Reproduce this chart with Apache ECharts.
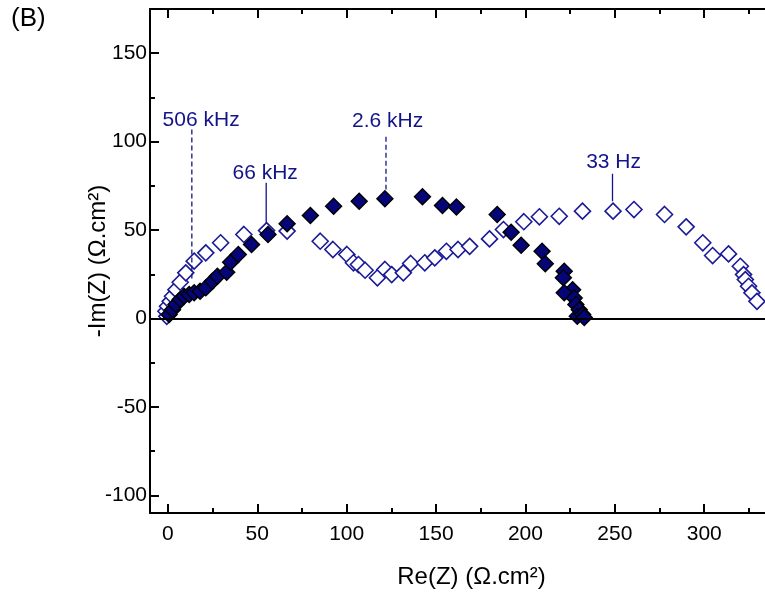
<!DOCTYPE html>
<html>
<head>
<meta charset="utf-8">
<script src="https://cdn.jsdelivr.net/npm/echarts@6/dist/echarts.min.js"></script>
<style>
html,body{margin:0;padding:0;background:#fff;}
#chart{width:765px;height:595px;}
</style>
</head>
<body>
<div id="chart"></div>
<script>
// ---- data (Re(Z), -Im(Z)) in ohm.cm2 ----
const filledSeries = [
  [0.7,2.2],[2.6,5],[4.5,7.9],[6.9,10.7],[9.1,12.5],[11.9,13.5],[14.7,14.5],[18,15.4],
  [21.2,17.3],[24.9,21],[27.7,23.9],[32.9,26.1],[35.1,31.8],[39.4,36.2],[46.8,41.8],
  [56,47.5],[66.7,53.5],[79.7,58.2],[92.7,63.5],[107,66.3],[121.4,67.7],[142.4,68.8],
  [153.6,63.9],[161.4,63.1],[184.2,58.8],[192,48.8],[197.6,41.4],[209.3,38],[211.1,30.9],
  [221.7,26.7],[221.2,23],[226.4,16.3],[221.7,14.5],[227.3,11.6],[228.2,7.9],[230.1,5],
  [229,1.2],[232,2.2],[232.9,0.5]
];
const openSeries = [
  [-0.6,1.2],[-1.1,4.1],[-0.2,6.9],[1.3,9.7],[2.6,12.6],[4.5,16.3],[6.9,20.5],[10,25.8],
  [14.7,32.4],[21.2,37.1],[29.5,42.8],[42.5,47.5],[55.2,49.7],[66.7,49.4],[85.2,43.7],
  [92.3,39],[100.1,36.2],[103.8,31.5],[106.6,30.5],[110.3,27.3],[117.2,23],[121.4,27.7],
  [125.2,24.8],[131.7,25.8],[135.8,31.1],[143.7,31.5],[149.3,34.3],[155.8,38],[162.3,39],
  [168.8,40.8],[179.9,45],[187.7,50.3],[199.1,54.7],[207.8,57.5],[218.9,57.8],[231.9,60.7],
  [249,60.7],[260.7,61.6],[277.8,58.8],[289.9,51.8],[299.2,42.8],[304.7,35.6],[313.6,36.5],
  [320.2,29.5],[322,24.8],[323,22],[324.8,18.2],[326.7,14.5],[329.5,9.7]
];
// frequency annotations: label, x, label position, line top, line bottom, dashed?
const annLabels = ['506 kHz', '2.6 kHz', '66 kHz', '33 Hz'];
const annX      = [13.4, 122, 55, 248.7];
const annLabelX = [18.6, 122.9, 54.4, 249.3];
const annLabelY = [111.9, 111.5, 81.9, 88.1];
const annTop    = [106.8, 102.8, 76.8, 81.9];
const annBottom = [22, 72.9, 54.2, 66.3];
const annDashed = [true, true, false, false];

const xMajorTicks = [0, 50, 100, 150, 200, 250, 300];
const xMinorTicks = [25, 75, 125, 175, 225, 275, 325];
const yMajorTicks = [-100, -50, 0, 50, 100, 150];
const yMinorTicks = [-75, -25, 25, 75, 125];

const xTitle = 'Re(Z) (Ω.cm²)';
const yTitle = '-Im(Z) (Ω.cm²)';
const panelLabel = '(B)';

// ---- chart ----
const FONT = 'Liberation Sans, Arial, sans-serif';
const NAVY = '#14148a';
const X_MIN = -10, X_MAX = 334, Y_MIN = -110, Y_MAX = 175;
const GRID = { left: 150, top: 9, right: 0, bottom: 82 };
const GRID_W = 765 - GRID.left - GRID.right;
const GRID_H = 595 - GRID.top - GRID.bottom;

function xMain(pos, withLabels, extra) {
  return Object.assign({
    type: 'value', position: pos, min: X_MIN, max: X_MAX,
    axisLine: { show: true, onZero: false, lineStyle: { color: '#000', width: 2 } },
    axisTick: { show: false },
    axisLabel: withLabels
      ? { show: true, customValues: xMajorTicks, fontSize: 21, color: '#000', fontFamily: FONT, margin: 11 }
      : { show: false },
    splitLine: { show: false }
  }, extra || {});
}
// tick-only x axis placed on the opposite side so its outward ticks point into the plot
function xTicks(pos, offset, ticks, len) {
  return {
    type: 'value', position: pos, offset: offset, min: X_MIN, max: X_MAX,
    axisLine: { show: false, onZero: false },
    axisTick: { show: true, length: len, customValues: ticks, lineStyle: { color: '#000', width: 2 } },
    axisLabel: { show: false }, splitLine: { show: false }
  };
}
function yTicks(ticks, len) {
  return {
    type: 'value', position: 'right', offset: -GRID_W, min: Y_MIN, max: Y_MAX,
    axisLine: { show: false, onZero: false },
    axisTick: { show: true, length: len, customValues: ticks, lineStyle: { color: '#000', width: 2 } },
    axisLabel: { show: false }, splitLine: { show: false }
  };
}

const series = [];
series.push({
  type: 'scatter', name: 'open', data: openSeries, symbol: 'diamond', symbolSize: 16,
  itemStyle: { color: '#ffffff', borderColor: '#1a1a96', borderWidth: 1.6, opacity: 1 }, z: 3,
  markLine: {
    silent: true, symbol: ['none', 'none'], label: { show: false },
    lineStyle: { color: '#000', width: 2.2, type: 'solid', opacity: 1 },
    data: [{ yAxis: 0 }]
  }
});
series.push({
  type: 'scatter', name: 'filled', data: filledSeries, symbol: 'diamond', symbolSize: 16,
  itemStyle: { color: '#050578', borderColor: '#000', borderWidth: 1.4, opacity: 1 }, z: 4
});
for (let i = 0; i < annLabels.length; i++) {
  series.push({
    type: 'line', data: [[annX[i], annTop[i]], [annX[i], annBottom[i]]],
    symbol: 'none', silent: true, z: 5,
    lineStyle: { color: NAVY, width: 1.3, opacity: 1, type: annDashed[i] ? [5, 3] : 'solid' }
  });
  series.push({
    type: 'scatter', data: [{ value: [annLabelX[i], annLabelY[i]], name: annLabels[i] }],
    symbolSize: 0, silent: true, z: 5, itemStyle: { opacity: 1 },
    label: { show: true, position: 'inside', formatter: '{b}', fontSize: 21,
             color: NAVY, opacity: 1, fontFamily: FONT }
  });
}

const chart = echarts.init(document.getElementById('chart'), null, { renderer: 'canvas' });
chart.setOption({
  animation: false,
  backgroundColor: '#fff',
  grid: Object.assign({ containLabel: false }, GRID),
  graphic: [{
    type: 'text', left: 11, top: 6,
    style: { text: panelLabel, fontSize: 26, fill: '#000', fontFamily: FONT }
  }],
  xAxis: [
    xMain('bottom', true, {
      name: xTitle, nameLocation: 'middle', nameGap: 52, nameMoveOverlap: false,
      nameTextStyle: { fontSize: 24, color: '#000', fontFamily: FONT, padding: [0, 0, 0, 28] }
    }),
    xMain('top', false),
    xTicks('top', -GRID_H, xMajorTicks, 9),
    xTicks('top', -GRID_H, xMinorTicks, 5),
    xTicks('bottom', -GRID_H, xMajorTicks, 9),
    xTicks('bottom', -GRID_H, xMinorTicks, 5)
  ],
  yAxis: [
    {
      type: 'value', position: 'left', min: Y_MIN, max: Y_MAX,
      axisLine: { show: true, onZero: false, lineStyle: { color: '#000', width: 2 } },
      axisTick: { show: false },
      axisLabel: { show: true, customValues: yMajorTicks, fontSize: 21, color: '#000', fontFamily: FONT, margin: 3 },
      splitLine: { show: false },
      name: yTitle, nameLocation: 'middle', nameGap: 40, nameRotate: 90, nameMoveOverlap: false,
      nameTextStyle: { fontSize: 24, color: '#000', fontFamily: FONT }
    },
    yTicks(yMajorTicks, 9),
    yTicks(yMinorTicks, 5)
  ],
  series: series
});
</script>
</body>
</html>
